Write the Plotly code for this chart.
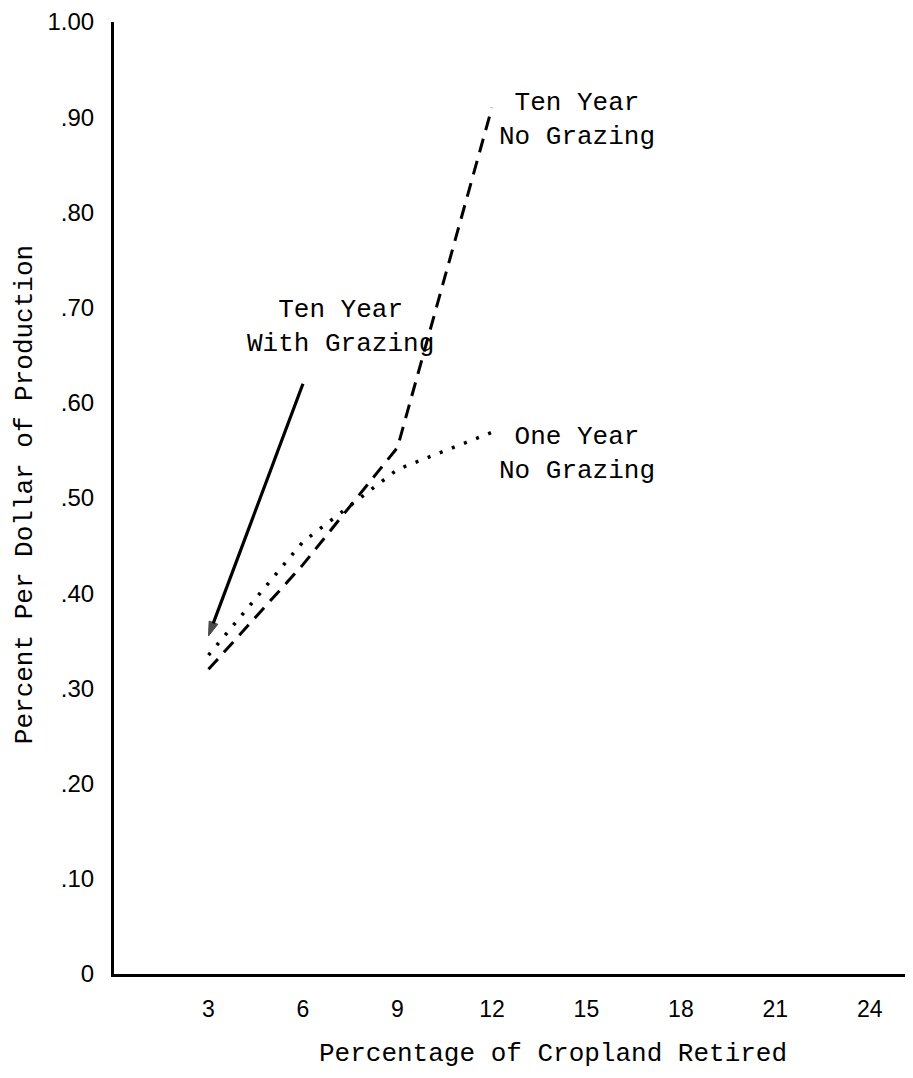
import plotly.graph_objects as go

# ---- data ----
cropland_retired = [3, 6, 9, 12]
ten_year_no_grazing = [0.32, 0.43, 0.553, 0.91]
one_year_no_grazing = [0.335, 0.454, 0.53, 0.569]
ten_year_with_grazing_x = [6, 3]          # drawn from top down to the arrow tip
ten_year_with_grazing = [0.62, 0.355]

x_tick_vals = [3, 6, 9, 12, 15, 18, 21, 24]
x_tick_text = ["3", "6", "9", "12", "15", "18", "21", "24"]
y_tick_vals = [0, 0.1, 0.2, 0.3, 0.4, 0.5, 0.6, 0.7, 0.8, 0.9, 1.0]
y_tick_text = ["0", ".10", ".20", ".30", ".40", ".50", ".60", ".70", ".80", ".90", "1.00"]

labels = ["Ten Year<br>With Grazing", "Ten Year<br>No Grazing", "One Year<br>No Grazing"]
label_x = [7.2, 14.7, 14.7]
label_y = [0.68, 0.897, 0.546]

MONO = "Liberation Mono, Courier New, monospace"
SANS = "Liberation Sans, Arial, sans-serif"

fig = go.Figure()

fig.add_trace(go.Scatter(
    x=cropland_retired, y=ten_year_no_grazing, mode="lines",
    line=dict(color="black", width=3, dash="14px,9px"),
    showlegend=False, hoverinfo="skip"))

fig.add_trace(go.Scatter(
    x=cropland_retired, y=one_year_no_grazing, mode="lines",
    line=dict(color="black", width=3.5, dash="3px,10px"),
    showlegend=False, hoverinfo="skip"))

fig.add_trace(go.Scatter(
    x=ten_year_with_grazing_x, y=ten_year_with_grazing, mode="lines+markers",
    line=dict(color="black", width=3.2),
    marker=dict(symbol="arrow", angleref="previous", size=[0, 15], color="black",
                line=dict(width=1, color="black")),
    showlegend=False, hoverinfo="skip"))

for t, lx, ly in zip(labels, label_x, label_y):
    fig.add_annotation(x=lx, y=ly, text=t, showarrow=False,
                       font=dict(family=MONO, size=26, color="black"),
                       xanchor="center", yanchor="middle", align="center")

# axis titles
fig.add_annotation(xref="paper", yref="paper", x=0.55, y=0, yshift=-80,
                   text="Percentage of Cropland Retired", showarrow=False,
                   font=dict(family=MONO, size=26, color="black"),
                   xanchor="center", yanchor="middle")
fig.add_annotation(xref="paper", yref="paper", x=0, y=0.503, xshift=-89,
                   text="Percent Per Dollar of Production", showarrow=False,
                   textangle=-90,
                   font=dict(family=MONO, size=26, color="black"),
                   xanchor="center", yanchor="middle")

fig.update_layout(
    width=905, height=1070,
    margin=dict(l=106, r=0, t=14, b=104),
    paper_bgcolor="white", plot_bgcolor="white",
    xaxis=dict(range=[0, 25.37], showgrid=False, zeroline=False,
               showline=True, linewidth=3, linecolor="black",
               tickmode="array", tickvals=x_tick_vals, ticktext=x_tick_text,
               ticks="", ticklabelstandoff=12,
               tickfont=dict(family=SANS, size=23, color="black")),
    yaxis=dict(range=[0, 1.0], showgrid=False, zeroline=False,
               showline=True, linewidth=3, linecolor="black",
               tickmode="array", tickvals=y_tick_vals, ticktext=y_tick_text,
               ticks="", ticklabelstandoff=12,
               tickfont=dict(family=SANS, size=24, color="black")),
)

fig.write_html("out.html")
